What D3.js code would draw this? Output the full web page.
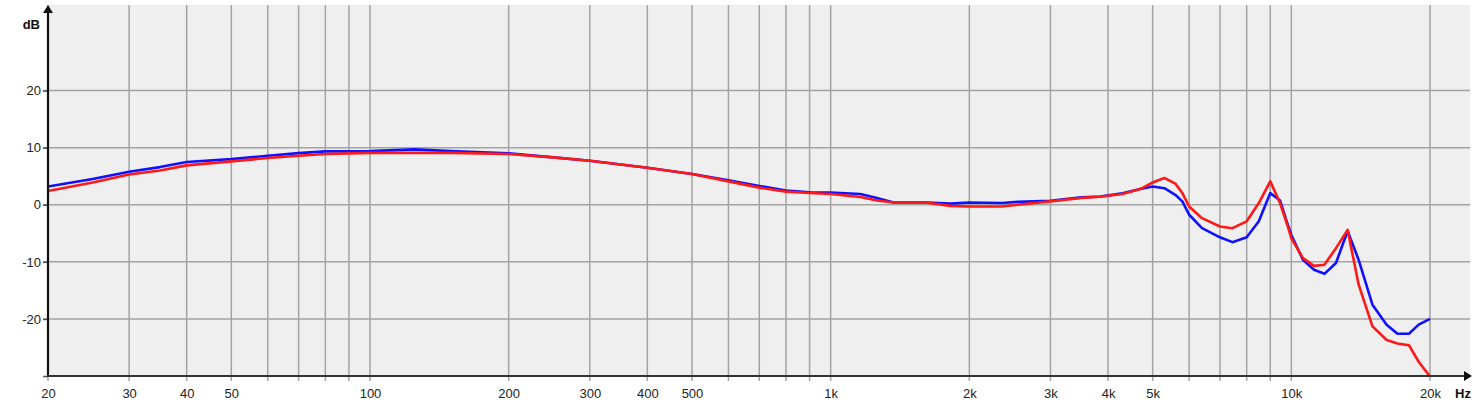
<!DOCTYPE html>
<html>
<head>
<meta charset="utf-8">
<script src="https://cdn.jsdelivr.net/npm/d3@7"></script>
<style>
  body { margin: 0; background: #fff; }
  svg { display: block; font-family: Arial, "Liberation Sans", sans-serif; }
</style>
</head>
<body>
<svg id="chart" width="1476" height="402"></svg>
<script>
// frequency points (Hz)
const freqs = [20, 25, 30, 35, 40, 50, 60, 70, 80, 100, 125, 150, 200, 250, 300, 400, 500, 600, 700, 800, 900, 1000,
  1160, 1260, 1370, 1620, 1820, 2000, 2350, 2550, 3000, 3500, 3850, 4300, 4700, 5000, 5300, 5600, 5800, 6000, 6400,
  7000, 7450, 8000, 8500, 9000, 9450, 9800, 10000, 10600, 11200, 11800, 12500, 13250, 14000, 15000, 16100, 17000,
  18000, 18900, 20000]

// blue curve (dB)
const blueDb = [3.2, 4.5, 5.8, 6.6, 7.5, 8.0, 8.6, 9.05, 9.35, 9.4, 9.7, 9.4, 9.0, 8.3, 7.7, 6.5, 5.4, 4.3, 3.3, 2.5, 2.2, 2.15,
  1.9, 1.2, 0.4, 0.4, 0.2, 0.4, 0.3, 0.5, 0.7, 1.3, 1.45, 2.0, 2.75, 3.2, 2.9, 1.75, 0.6, -1.75, -4.1,
  -5.7, -6.55, -5.7, -2.9, 2.05, 0.75, -3.2, -5.3, -9.65, -11.4, -12.1, -10.2, -4.6, -9.65, -17.5, -21.0, -22.6,
  -22.6, -21.0, -20.0]

// red curve (dB)
const redDb = [2.4, 3.9, 5.3, 6.0, 6.9, 7.6, 8.2, 8.6, 8.9, 9.1, 9.1, 9.1, 8.9, 8.3, 7.7, 6.5, 5.4, 4.1, 3.0, 2.3, 2.05, 1.9,
  1.35, 0.75, 0.4, 0.35, -0.2, -0.3, -0.3, 0.0, 0.6, 1.2, 1.4, 1.9, 2.75, 3.9, 4.7, 3.7, 2.05, -0.3, -2.35,
  -3.8, -4.1, -2.9, 0.3, 4.1, 0.3, -3.5, -5.9, -9.35, -10.7, -10.5, -7.6, -4.4, -14.0, -21.3, -23.7, -24.3,
  -24.6, -27.5, -30.1]

// grid and tick labels
const gridFreqs = [20, 30, 40, 50, 60, 70, 80, 90, 100, 200, 300, 400, 500, 600, 700, 800, 900,
  1000, 2000, 3000, 4000, 5000, 6000, 7000, 8000, 9000, 10000, 20000]
const freqLabels = [20, 30, 40, 50, 100, 200, 300, 400, 500, 1000, 2000, 3000, 4000, 5000, 10000, 20000]
const dbTicks = [20, 10, 0, -10, -20]

const svg = d3.select('#chart')
const plotLeft = 48
const plotRight = 1472
const plotTop = 5
const plotBottom = 376

const x = d3.scaleLog().domain([20, 20000]).range([plotLeft, 1430])
const y = d3.scaleLinear().domain([-30, 35]).range([plotBottom, plotTop])

// plot background
svg.append('rect')
  .attr('x', plotLeft).attr('y', plotTop)
  .attr('width', plotRight - plotLeft - 2).attr('height', plotBottom - plotTop)
  .attr('fill', '#efefef')

// grid lines
svg.append('g').selectAll('line')
  .data(gridFreqs)
  .enter()
  .append('line')
  .attr('x1', d => x(d)).attr('x2', d => x(d))
  .attr('y1', plotTop).attr('y2', plotBottom + 5)
  .attr('stroke', '#a3a3a3')
  .attr('stroke-width', 1.5)

svg.append('g').selectAll('line')
  .data(dbTicks)
  .enter()
  .append('line')
  .attr('x1', plotLeft - 5).attr('x2', plotRight - 2)
  .attr('y1', d => y(d)).attr('y2', d => y(d))
  .attr('stroke', '#a3a3a3')
  .attr('stroke-width', 1.5)

// y labels
const yAxis = svg.append('g')
  .attr('transform', `translate(${plotLeft},0)`)
  .call(d3.axisLeft(y).tickValues(dbTicks.concat([-30])).tickSize(5).tickFormat(d => d === -30 ? '' : d))
yAxis.select('.domain').remove()
yAxis.selectAll('line').attr('stroke', '#555').attr('stroke-width', 1.5)
yAxis.selectAll('text').attr('font-size', 13).attr('fill', '#222').attr('x', -7)

// x labels
const fmt = d => d >= 1000 ? `${d / 1000}k` : `${d}`
const xAxis = svg.append('g')
  .attr('transform', `translate(0,${plotBottom})`)
  .call(d3.axisBottom(x).tickValues(freqLabels).tickSize(0).tickFormat(fmt))
xAxis.select('.domain').remove()
xAxis.selectAll('text').attr('font-size', 13).attr('fill', '#222').attr('dy', '1.45em')

// curves
svg.append('clipPath').attr('id', 'clip')
  .append('rect').attr('x', plotLeft).attr('y', plotTop).attr('width', plotRight - plotLeft).attr('height', plotBottom - plotTop)

const line = d3.line()
  .x(d => x(d[0]))
  .y(d => y(d[1]))

const series = [
  { color: '#1010ff', values: blueDb },
  { color: '#ff1818', values: redDb },
]
svg.append('g').attr('clip-path', 'url(#clip)')
  .selectAll('path')
  .data(series)
  .enter()
  .append('path')
  .attr('d', s => line(freqs.map((f, i) => [f, s.values[i]])))
  .attr('fill', 'none')
  .attr('stroke', s => s.color)
  .attr('stroke-width', 2.6)
  .attr('stroke-linejoin', 'round')

// axis lines with arrows
svg.append('line')
  .attr('x1', plotLeft).attr('x2', plotLeft)
  .attr('y1', plotBottom + 1).attr('y2', plotTop + 4)
  .attr('stroke', '#111').attr('stroke-width', 2.2)
svg.append('path')
  .attr('d', `M${plotLeft - 5},${plotTop + 8}L${plotLeft},${plotTop}L${plotLeft + 5},${plotTop + 8}Z`)
  .attr('fill', '#111')
svg.append('line')
  .attr('x1', plotLeft - 1).attr('x2', plotRight - 4)
  .attr('y1', plotBottom).attr('y2', plotBottom)
  .attr('stroke', '#333').attr('stroke-width', 2.2)
svg.append('path')
  .attr('d', `M${plotRight - 8},${plotBottom - 5}L${plotRight},${plotBottom}L${plotRight - 8},${plotBottom + 5}Z`)
  .attr('fill', '#111')

// unit labels
svg.append('text')
  .attr('x', 40).attr('y', 29)
  .attr('text-anchor', 'end')
  .attr('font-size', 13).attr('font-weight', 'bold').attr('fill', '#111')
  .text('dB')
svg.append('text')
  .attr('x', 1463).attr('y', 398)
  .attr('text-anchor', 'middle')
  .attr('font-size', 13).attr('font-weight', 'bold').attr('fill', '#111')
  .text('Hz')
</script>
</body>
</html>
